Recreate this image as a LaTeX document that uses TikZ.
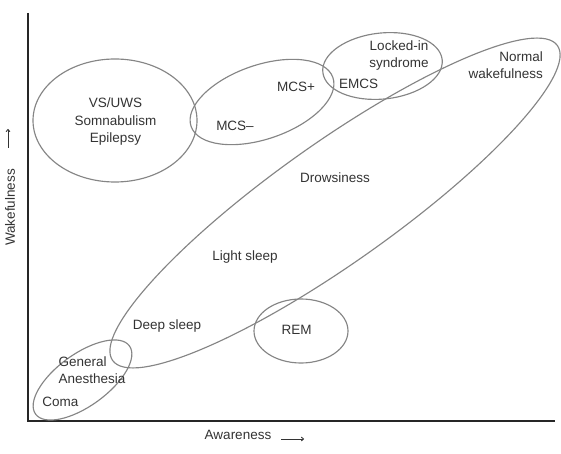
\documentclass[tikz,border=0pt]{standalone}
\usepackage{fontspec}
\setmainfont{Liberation Sans}
\usetikzlibrary{shapes.geometric,arrows.meta}
\definecolor{linegray}{HTML}{858585}
\definecolor{txt}{HTML}{333333}
\tikzset{
  ell/.style={draw=linegray, line width=1.15pt, ellipse, inner sep=0pt, outer sep=0pt},
  lbl/.style={text=txt, font=\fontsize{13.5}{17.5}\selectfont, inner sep=0pt, align=center},
  axis/.style={draw=black!85, line width=2pt},
  arr/.style={draw=txt, line width=0.9pt, -{To[length=3pt,width=4.5pt]}}
}
\begin{document}
\begin{tikzpicture}[x=1pt,y=1pt]
\useasboundingbox (0,0) rectangle (561,453);
% axes
\coordinate (top) at (28,440);
\coordinate (origin) at (28,32);
\coordinate (right) at (555,32);
\draw[axis] (top) -- (origin) -- (right);
% axis labels
\node[lbl, rotate=90] (wlab) at (10,245.5) {Wakefulness};
\coordinate (wa1) at (8,305);
\coordinate (wa2) at (8,324);
\draw[arr] (wa1) -- (wa2);
\node[lbl] (alab) at (238,18) {Awareness};
\coordinate (aa1) at (281,14);
\coordinate (aa2) at (304,14);
\draw[arr] (aa1) -- (aa2);
% ellipses
\node[ell, minimum width=545, minimum height=120, rotate=35.3] (wake) at (335,250) {};
\node[ell, minimum width=164, minimum height=123] (vs) at (115,332.5) {};
\node[ell, minimum width=150, minimum height=74, rotate=19] (mcs) at (262,351) {};
\node[ell, minimum width=120, minimum height=66, rotate=6] (lis) at (382.5,387) {};
\node[ell, minimum width=116, minimum height=52, rotate=36] (ga) at (82.5,73) {};
\node[ell, minimum width=94, minimum height=64] (rem) at (301,122) {};
% texts
\node[lbl] (vst) at (115.5,331) {VS/UWS\\Somnabulism\\Epilepsy};
\node[lbl] (mcsp) at (296,366) {MCS+};
\node[lbl] (mcsm) at (235,327) {MCS\textendash};
\node[lbl] (emcs) at (358.5,369) {EMCS};
\node[lbl] (lockt) at (399,397.5) {Locked-in\\syndrome};
\node[lbl, align=right, anchor=east] (normt) at (543,388) {Normal\\wakefulness};
\node[lbl] (drow) at (335,275) {Drowsiness};
\node[lbl] (light) at (245,196) {Light sleep};
\node[lbl] (deep) at (167,127) {Deep sleep};
\node[lbl] (remt) at (296.5,123) {REM};
\node[lbl, align=left, anchor=west] (gat) at (58.5,83) {General\\Anesthesia};
\node[lbl] (coma) at (60.5,51) {Coma};
\end{tikzpicture}
\end{document}
